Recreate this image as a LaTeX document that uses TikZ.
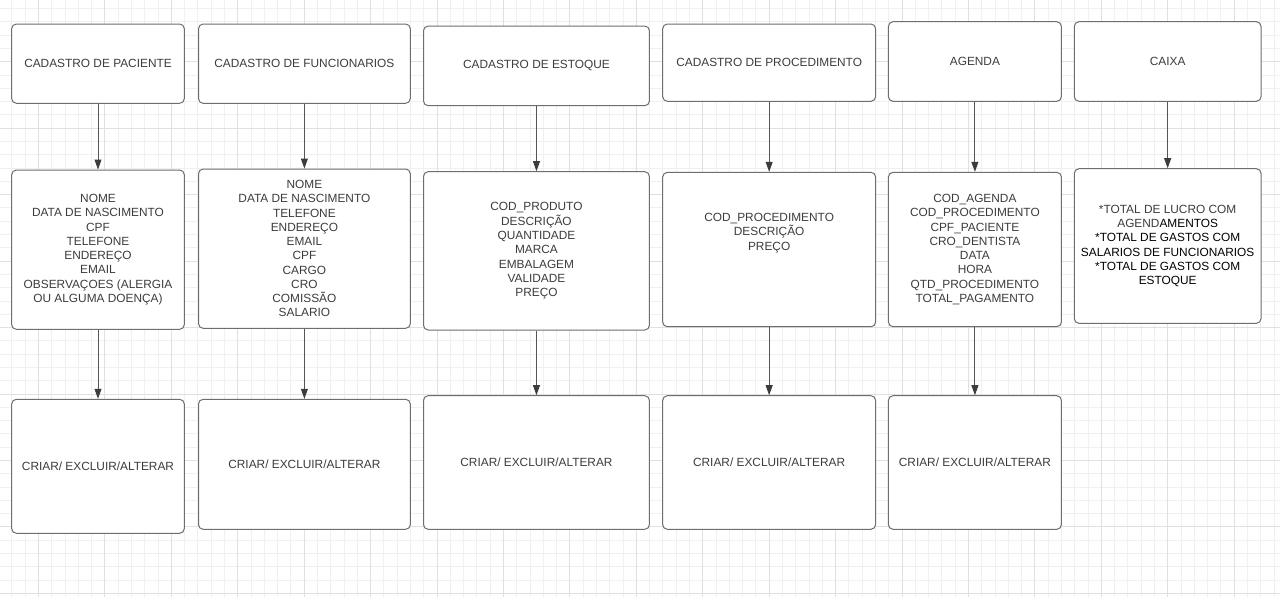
\documentclass[tikz,border=0pt]{standalone}
\usepackage{fontspec}
\setmainfont{Liberation Sans}
\usetikzlibrary{arrows.meta}
\definecolor{gridminor}{HTML}{F0F0F0}
\definecolor{gridmajor}{HTML}{E0E0E0}
\definecolor{boxline}{HTML}{6E6E6E}
\definecolor{textgray}{HTML}{3C3C3C}
\definecolor{arrowgray}{HTML}{555555}
\tikzset{
    box/.style={draw=boxline, line width=0.75pt, rounded corners=3.5pt, fill=white,
        text=textgray, align=center, inner sep=0pt,
        font=\fontsize{8.9}{10.7}\selectfont},
    sz/.style 2 args={minimum width=#1*0.75pt, minimum height=#2*0.75pt},
    txt/.style={text=textgray, align=center, inner sep=0pt,
        font=\fontsize{8.9}{10.7}\selectfont},
    arr/.style={draw=arrowgray, line width=0.75pt,
        -{Triangle[length=7.5pt,width=5.2pt,color=textgray]}},
}
\begin{document}
\begin{tikzpicture}[x=0.75pt,y=-0.75pt]
    \useasboundingbox (0,0) rectangle (1280,597);
    \fill[white] (0,0) rectangle (1280,597);
    % grid
    \foreach \i in {0,...,95}
        \draw[gridminor, line width=0.75pt] (11.93+13.286*\i,0) -- ++(0,597);
    \foreach \i in {0,...,44}
        \draw[gridminor, line width=0.75pt] (0,8.7+13.286*\i) -- ++(1280,0);
    \foreach \i in {0,...,18}
        \draw[gridmajor, line width=0.75pt] (38.5+66.43*\i,0) -- ++(0,597);
    \foreach \i in {0,...,8}
        \draw[gridmajor, line width=0.75pt] (0,61.85+66.43*\i) -- ++(1280,0);

    % paciente
    \node[box, sz={172.6}{79.3}] (pacT) at (98,63.65) {CADASTRO DE PACIENTE};
    \node[box, sz={172.6}{159.3}] (pacM) at (98,249.65) {NOME\\DATA DE NASCIMENTO\\CPF\\TELEFONE\\ENDEREÇO\\EMAIL\\OBSERVAÇOES (ALERGIA\\OU ALGUMA DOENÇA)};
    \node[box, sz={172.6}{134}] (pacB) at (98,466.3) {CRIAR/ EXCLUIR/ALTERAR};
    % funcionarios
    \node[box, sz={211.8}{79.3}] (funT) at (304.4,63.65) {CADASTRO DE FUNCIONARIOS};
    \node[box, sz={211.8}{159.3}] (funM) at (304.4,248.65) {NOME\\DATA DE NASCIMENTO\\TELEFONE\\ENDEREÇO\\EMAIL\\CPF\\CARGO\\CRO\\COMISSÃO\\SALARIO};
    \node[box, sz={211.8}{130}] (funB) at (304.4,464.3) {CRIAR/ EXCLUIR/ALTERAR};
    % estoque
    \node[box, sz={225.9}{79.7}] (estT) at (536.45,65.85) {CADASTRO DE ESTOQUE};
    \node[box, sz={225.9}{158.3}] (estM) at (536.45,250.85) {COD\_PRODUTO\\DESCRIÇÃO\\QUANTIDADE\\MARCA\\EMBALAGEM\\VALIDADE\\PREÇO};
    \node[box, sz={225.9}{133.6}] (estB) at (536.45,462.5) {CRIAR/ EXCLUIR/ALTERAR};
    % procedimento
    \node[box, sz={212.9}{77.3}] (proT) at (769.15,62.65) {CADASTRO DE PROCEDIMENTO};
    \node[box, sz={212.9}{154.4}] (proM) at (769.15,249.5) {};
    \node[txt] (proMtxt) at (769.15,233) {COD\_PROCEDIMENTO\\DESCRIÇÃO\\PREÇO};
    \node[box, sz={212.9}{133.6}] (proB) at (769.15,462.5) {CRIAR/ EXCLUIR/ALTERAR};
    % agenda
    \node[box, sz={173}{79.6}] (ageT) at (974.9,61.5) {AGENDA};
    \node[box, sz={173}{154.4}] (ageM) at (974.9,249.5) {COD\_AGENDA\\COD\_PROCEDIMENTO\\CPF\_PACIENTE\\CRO\_DENTISTA\\DATA\\HORA\\QTD\_PROCEDIMENTO\\TOTAL\_PAGAMENTO};
    \node[box, sz={173}{133.6}] (ageB) at (974.9,462.5) {CRIAR/ EXCLUIR/ALTERAR};
    % caixa
    \node[box, sz={186.7}{79.6}] (caiT) at (1167.65,61.5) {CAIXA};
    \node[box, sz={186.7}{154.6}] (caiM) at (1167.65,246) {*TOTAL DE LUCRO COM\\AGEND\textcolor{black}{AMENTOS}\\\textcolor{black}{*TOTAL DE GASTOS COM}\\\textcolor{black}{SALARIOS DE FUNCIONARIOS}\\\textcolor{black}{*TOTAL DE GASTOS COM}\\\textcolor{black}{ESTOQUE}};

    % arrows
    \foreach \c in {pac,fun,est,pro,age}{
        \draw[arr] (\c T.south) -- (\c T.south |- \c M.north);
        \draw[arr] (\c M.south) -- (\c M.south |- \c B.north);
    }
    \draw[arr] (caiT.south) -- (caiT.south |- caiM.north);
\end{tikzpicture}
\end{document}
